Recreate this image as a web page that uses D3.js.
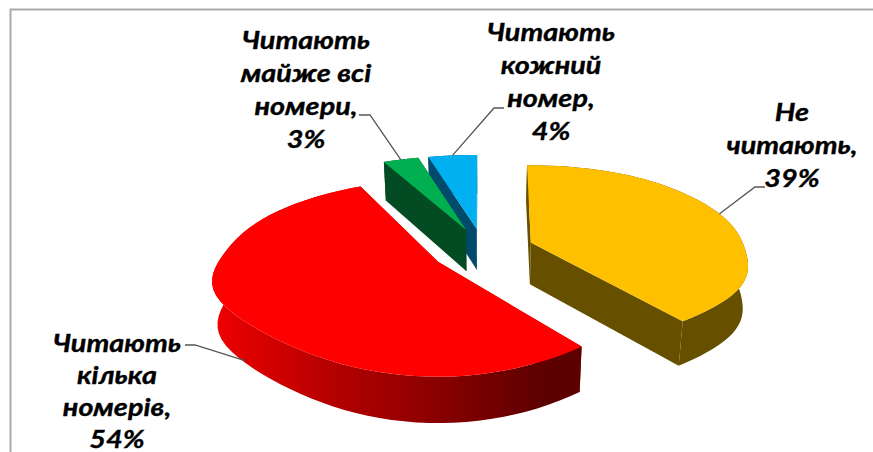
<!DOCTYPE html>
<html>
<head>
<meta charset="utf-8">
<script src="https://cdn.jsdelivr.net/npm/d3@7"></script>
<style>
  html, body { margin: 0; padding: 0; background: #fff; }
  svg { display: block; }
  text { font-family: Lato, "Open Sans", sans-serif; font-weight: 700; font-style: italic; font-size: 24px; fill: #000; stroke: #000; stroke-width: 0.35px; }
</style>
</head>
<body>
<div id="svg-container"></div>
<script>
// data
const categories = ["Не читають", "Читають кілька номерів", "Читають майже всі номери", "Читають кожний номер"];
const shares = [39, 54, 3, 4];
const labelLines = [
  ["Не", "читають,", "39%"],
  ["Читають", "кілька", "номерів,", "54%"],
  ["Читають", "майже всі", "номери,", "3%"],
  ["Читають", "кожний", "номер,", "4%"]
];
const topColors = ["#ffc000", "#ff0000", "#00b050", "#00b0f0"];
const wallColors = ["#665000", "#c00000", "#034b22", "#004a6b"];

// svg
const width = 873;
const height = 452;
const svg = d3.select("#svg-container").append("svg").attr("width", width).attr("height", height);

// frame
svg.append("path").attr("d", "M10.5,452V9.5H873").attr("fill", "none").attr("stroke", "#aaa").attr("stroke-width", 2);

// pie layout, first slice starts at 12 o'clock
const pie = d3.pie().value((d) => d).sort(null);
const arcs = pie(shares);

// projection of the tilted disc
const cx = 483, cy = 250, radius = 218, tilt = 92, persp = 0.16, explode = 0.24, depth = 42;
// horizontal scale by distance from the viewer, fitted to the picture
const xPersp = d3.interpolateBasis([0.9, 0.88, 0.94, 0.98, 1.1, 1.03, 1.03]);
const project = (gx, gy, z) => {
  const s = 1 / (1 - persp * gy);
  const sx = xPersp((gy + 1.2) / 2.5);
  return [cx + radius * gx * sx * (1 - 0.02 * z), cy + tilt * gy * s + depth * z * Math.sqrt(s)];
};
const onSlice = (a, angle, r, z) => {
  const mid = (a.startAngle + a.endAngle) / 2;
  const gx = explode * Math.sin(mid) + r * Math.sin(angle);
  const gy = -explode * Math.cos(mid) - r * Math.cos(angle);
  return project(gx, gy, z);
};
const line = d3.line().curve(d3.curveLinear);

// gradient on the red wall
const defs = svg.append("defs");
const grad = defs.append("linearGradient").attr("id", "red-wall").attr("gradientUnits", "userSpaceOnUse")
  .attr("x1", 215).attr("x2", 583).attr("y1", 0).attr("y2", 0);
grad.append("stop").attr("offset", "0").attr("stop-color", "#ee0000");
grad.append("stop").attr("offset", "0.3").attr("stop-color", "#b80000");
grad.append("stop").attr("offset", "0.9").attr("stop-color", "#5c0000");

// painter's order: yellow, blue, green, red
const order = [0, 3, 2, 1];
order.forEach((i) => {
  const a = arcs[i];
  const angles = d3.range(0, 61).map((k) => a.startAngle + (a.endAngle - a.startAngle) * k / 60);
  const rim = (z) => angles.map((t) => onSlice(a, t, 1, z));
  const apex = (z) => onSlice(a, 0, 0, z);
  const g = svg.append("g");
  const wall = i === 1 ? "url(#red-wall)" : wallColors[i];
  // cut walls
  [a.startAngle, a.endAngle].forEach((t) => {
    g.append("path").attr("d", line([apex(0), onSlice(a, t, 1, 0), onSlice(a, t, 1, 1), apex(1)]) + "Z").attr("fill", wallColors[i]);
  });
  // outer wall
  g.append("path").attr("d", line(rim(0).concat(rim(1).reverse())) + "Z").attr("fill", wall);
  // top face
  g.append("path").attr("d", line([apex(0)].concat(rim(0))) + "Z").attr("fill", topColors[i]);
});

// labels, squeezed wide like the stretched source picture
const labelX = [792, 117, 306, 551];
const labelBase = [121, 352, 49, 41];
const lineStep = [33, 32, 33, 33];
const stretch = 1.2;
svg.selectAll("text.label").data(labelLines).join("text").attr("class", "label")
  .attr("text-anchor", "middle")
  .attr("transform", (d, i) => `translate(${labelX[i]},${labelBase[i]}) scale(${stretch},1)`)
  .each(function (lines, i) {
    d3.select(this).selectAll("tspan").data(lines).join("tspan")
      .attr("x", 0)
      .attr("y", (d, k) => k * lineStep[i])
      .text((d) => d);
  });

// leader lines: slice anchor, elbow, end at the label
const elbow = [[755, 187], [195, 345], [370, 115], [494, 108]];
const lineEnd = [[765, 187], [185, 345], [359, 115], [504, 108]];
const anchorZ = [0, 0.95, 0, 0];
arcs.forEach((a, i) => {
  const mid = (a.startAngle + a.endAngle) / 2;
  svg.append("path")
    .attr("d", line([onSlice(a, mid, 1, anchorZ[i]), elbow[i], lineEnd[i]]))
    .attr("fill", "none").attr("stroke", "#555").attr("stroke-width", 1.3);
});
</script>
</body>
</html>
